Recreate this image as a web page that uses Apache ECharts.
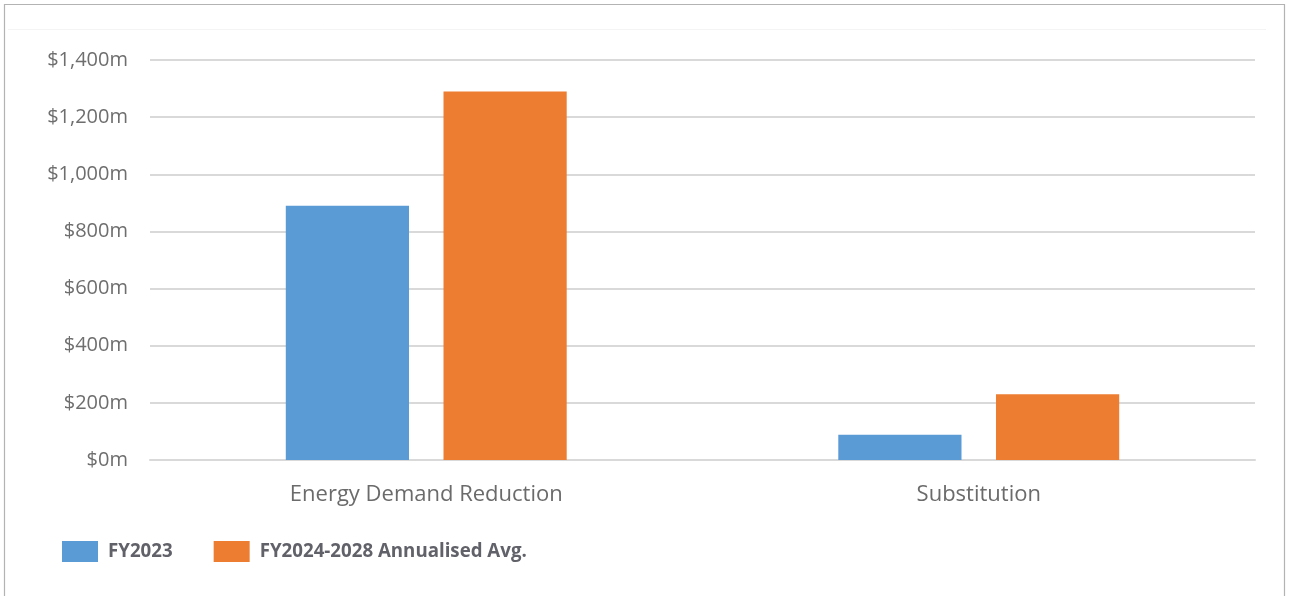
<!DOCTYPE html>
<html>
<head>
<meta charset="utf-8">
<script src="https://cdn.jsdelivr.net/npm/echarts@6/dist/echarts.min.js"></script>
<style>
  html, body { margin: 0; padding: 0; background: #ffffff; }
  #chart { width: 1290px; height: 596px; }
</style>
</head>
<body>
<div id="chart"></div>
<script>
// Investment by category ($m)
const categories = ['Energy Demand Reduction', 'Substitution'];
const seriesNames = ['FY2023', 'FY2024-2028 Annualised Avg.'];
const fy2023 = [890, 88];
const fy2024to2028 = [1290, 230];
const yTicks = [0, 200, 400, 600, 800, 1000, 1200, 1400];

const colors = ['#5b9bd5', '#ed7d31'];
const fontFamily = '"Open Sans", "Noto Sans", sans-serif';

const chart = echarts.init(document.getElementById('chart'), null, { renderer: 'canvas' });

chart.setOption({
  animation: false,
  backgroundColor: '#ffffff',
  color: colors,
  graphic: [
    {
      type: 'rect',
      silent: true,
      shape: { x: 4.5, y: 4.5, width: 1280, height: 620 },
      style: { fill: 'none', stroke: '#b3b3b3', lineWidth: 1.2 }
    },
    {
      type: 'line',
      silent: true,
      shape: { x1: 8, y1: 29.5, x2: 1266, y2: 29.5 },
      style: { stroke: '#f4f4f4', lineWidth: 1 }
    }
  ],
  grid: { left: 150, right: 35, top: 60, bottom: 136, containLabel: false },
  legend: {
    left: 57,
    top: 536,
    icon: 'rect',
    itemWidth: 36,
    itemHeight: 21,
    itemGap: 41,
    data: seriesNames,
    textStyle: {
      fontFamily: fontFamily,
      fontSize: 18.7,
      fontWeight: 'bold',
      color: '#616169',
      padding: [0, 0, 0, 5]
    }
  },
  xAxis: {
    type: 'category',
    data: categories,
    axisLine: { show: true, lineStyle: { color: '#d9d9d9', width: 2 } },
    axisTick: { show: false },
    axisLabel: {
      margin: 24,
      fontFamily: fontFamily,
      fontSize: 22,
      color: '#6b6b6b'
    }
  },
  yAxis: {
    type: 'value',
    min: yTicks[0],
    max: yTicks[yTicks.length - 1],
    interval: yTicks[1] - yTicks[0],
    axisLine: { show: false },
    axisTick: { show: false },
    splitLine: { lineStyle: { color: '#d9d9d9', width: 2 } },
    axisLabel: {
      margin: 22,
      fontFamily: fontFamily,
      fontSize: 20,
      color: '#6e6e6e',
      formatter: v => '$' + v.toLocaleString('en-US') + 'm'
    }
  },
  series: [
    {
      name: seriesNames[0],
      type: 'bar',
      data: fy2023,
      barWidth: '22.3%',
      barGap: '28%',
      itemStyle: { color: colors[0] }
    },
    {
      name: seriesNames[1],
      type: 'bar',
      data: fy2024to2028,
      barWidth: '22.3%',
      barGap: '28%',
      itemStyle: { color: colors[1] }
    }
  ]
});
</script>
</body>
</html>
